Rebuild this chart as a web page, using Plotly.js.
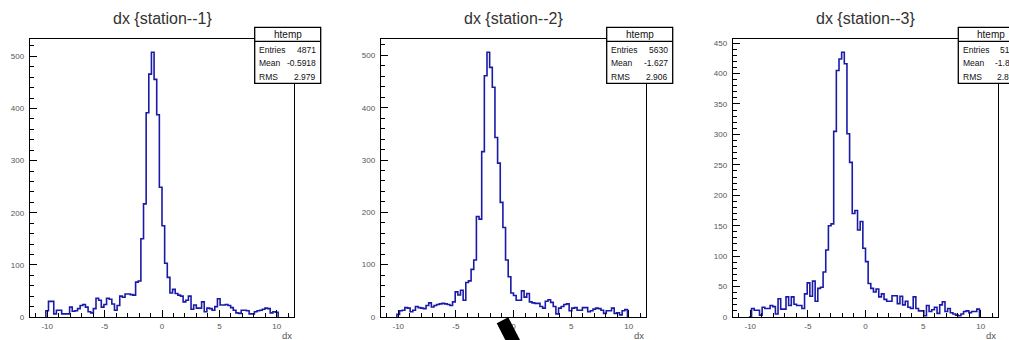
<!DOCTYPE html>
<html><head><meta charset="utf-8">
<script src="https://cdn.plot.ly/plotly-3.0.1.min.js"></script>
<style>html,body{margin:0;padding:0;background:#fff;overflow:hidden}#chart{width:1009px;height:340px}</style>
</head><body><div id="chart"></div>
<script>
// ---------------- data ----------------
const panelTitles = ["dx {station--1}", "dx {station--2}", "dx {station--3}"];
const xAxisLabel = "dx";
const boxName = "htemp";
const xMin = -11.5, xMax = 11.5, nBins = 100;
const firstBin = 6;            // index of first listed bin in the 100-bin histogram
const xTickVals = [-10, -5, 0, 5, 10];
const xTickText = ["-10", "-5", "0", "5", "10"];

const counts1 = [12,30,30,6,13,13,6,6,6,19, 11,12,16,22,24,19,10,8,16,36,
  32,19,24,36,34,25,13,22,40,38, 44,44,43,42,67,69,150,217,392,466,
  508,456,388,249,175,103,76,46,53,45, 42,40,29,32,40,15,23,17,17,29,
  10,17,16,13,20,35,23,23,24,22, 18,13,8,7,13,13,12,6,6,10, 12,13,15,17,16,8,10,9];
const counts2 = [5,12,13,18,17,10,13,20,18,17, 16,22,27,19,22,24,25,26,25,24, 22,29,48,42,51,32,
  66,69,91,109,192,187,316,461,506,477,439,343,294,219,171,109,77,46,41,
  32,32,50,38,45,29,27,26,26,20, 17,30,33,28,20,6,17,20,24,25, 12,17,18,13,13,18,18,10,12,15,
  17,16,13,7,12,12,17,7,8,4, 12,14];
const counts3 = [0, 14,11,11,3,16,14,14,19,17,5, 30,13,13,33,19,33,21,19,19,14, 38,56,34,59,26,47,49,74,
  110,150,153,305,405,424,435,416,301,254,170,175,143,157,113,91,
  55,47,41,46,33,38,29,26,26,35, 35,22,34,20,26,16,14,33,14,10, 10,2,19,9,12,16,6,20,25,9,
  14,7,5,3,2,5,9,10,7,9, 9,13];

const statNames = ["Entries", "Mean", "RMS"];
const stat1 = ["4871", "-0.5918", "2.979"];
const stat2 = ["5630", "-1.627", "2.906"];
const stat3 = ["5157", "-1.886", "2.853"];

const yMajor = [100, 100, 50];
const yMinor = [20, 20, 10];

// ---------------- layout geometry (pixels) ----------------
const W = 1009, H = 340;
const frames = [{l: 30, r: 294}, {l: 381, r: 646}, {l: 733, r: 998}];
const frameTop = 39, frameBottom = 317;
const boxLefts = [254.7, 606.7, 958.3];
const boxW = 66, boxTop = 27.3, boxHeadBottom = 41.3, boxBottom = 83.3;
const barPoly = [[496.7, 323.3], [508.3, 317.3], [527.2, 354], [512.5, 354]];

const px = x => x / W;
const py = y => 1 - y / H;

const allCounts = [counts1, counts2, counts3];
const allStats = [stat1, stat2, stat3];
const binW = (xMax - xMin) / nBins;

const traces = [];
const layout = {
  width: W, height: H, autosize: false,
  margin: {l: 0, r: 0, t: 0, b: 0},
  paper_bgcolor: "#fff", plot_bgcolor: "#fff",
  showlegend: false,
  shapes: [], annotations: []
};
const tickFont = {family: "Liberation Sans, Arial, sans-serif", size: 8, color: "#555"};
const statFont = {family: "Liberation Sans, Arial, sans-serif", size: 8.5, color: "#111"};

allCounts.forEach((c, i) => {
  const s = i === 0 ? "" : String(i + 1);
  const xs = [], ys = [];
  const e0 = xMin + firstBin * binW;
  xs.push(e0); ys.push(0);
  c.forEach((v, j) => { xs.push(e0 + j * binW); ys.push(v); });
  xs.push(e0 + c.length * binW); ys.push(0);
  traces.push({
    type: "scatter", mode: "lines", x: xs, y: ys,
    xaxis: "x" + s, yaxis: "y" + s,
    line: {shape: "hv", color: "#1a1aa8", width: 1.6},
    hoverinfo: "skip"
  });
  const fr = frames[i];
  const ymax = Math.max(...c) * 1.05;
  layout["xaxis" + s] = {
    domain: [px(fr.l), px(fr.r)], range: [xMin, xMax], anchor: "y" + s,
    showline: true, mirror: true, linecolor: "#000", linewidth: 1.2,
    ticks: "inside", ticklen: 7, tickwidth: 1, tickcolor: "#000",
    tickmode: "array", tickvals: xTickVals, ticktext: xTickText,
    minor: {dtick: 1, tick0: 0, ticks: "inside", ticklen: 4, tickwidth: 1, tickcolor: "#000", showgrid: false},
    showgrid: false, zeroline: false, tickfont: tickFont, ticklabelstandoff: 1
  };
  layout["yaxis" + s] = {
    domain: [py(frameBottom), py(frameTop)], range: [0, ymax], anchor: "x" + s,
    showline: true, mirror: true, linecolor: "#000", linewidth: 1.2,
    ticks: "inside", ticklen: 7, tickwidth: 1, tickcolor: "#000",
    dtick: yMajor[i], tick0: 0,
    minor: {dtick: yMinor[i], tick0: 0, ticks: "inside", ticklen: 4, tickwidth: 1, tickcolor: "#000", showgrid: false},
    showgrid: false, zeroline: false, tickfont: tickFont, ticklabelstandoff: 3
  };
  // title
  layout.annotations.push({
    xref: "paper", yref: "paper", x: px((fr.l + fr.r) / 2), y: py(18),
    xanchor: "center", yanchor: "middle", showarrow: false,
    text: panelTitles[i], font: {family: "Liberation Sans, Arial, sans-serif", size: 16, color: "#333"}
  });
  // x axis label
  layout.annotations.push({
    xref: "paper", yref: "paper", x: px(fr.r), y: py(335.5),
    xanchor: "right", yanchor: "middle", showarrow: false,
    text: xAxisLabel, font: {family: "Liberation Sans, Arial, sans-serif", size: 9.5, color: "#555"}
  });
  // stat box
  const bl = boxLefts[i];
  layout.shapes.push({type: "rect", xref: "paper", yref: "paper", layer: "above",
    x0: px(bl), x1: px(bl + boxW), y0: py(boxBottom), y1: py(boxTop),
    fillcolor: "#fff", line: {color: "#000", width: 1.3}});
  layout.shapes.push({type: "line", xref: "paper", yref: "paper", layer: "above",
    x0: px(bl), x1: px(bl + boxW), y0: py(boxHeadBottom), y1: py(boxHeadBottom),
    line: {color: "#000", width: 1.3}});
  layout.annotations.push({
    xref: "paper", yref: "paper", x: px(bl + boxW / 2), y: py(34.5),
    xanchor: "center", yanchor: "middle", showarrow: false,
    text: boxName, font: {family: "Liberation Sans, Arial, sans-serif", size: 10, color: "#111"}
  });
  const rowY = [50, 63.3, 77.5];
  statNames.forEach((nm, r) => {
    layout.annotations.push({
      xref: "paper", yref: "paper", x: px(bl + 2.5), y: py(rowY[r]),
      xanchor: "left", yanchor: "middle", showarrow: false,
      text: nm, font: statFont
    });
    layout.annotations.push({
      xref: "paper", yref: "paper", x: px(bl + boxW - 3), y: py(rowY[r]),
      xanchor: "right", yanchor: "middle", showarrow: false,
      text: allStats[i][r], font: statFont
    });
  });
});

// black bar overlay
layout.shapes.push({
  type: "path", xref: "paper", yref: "paper", layer: "above",
  path: "M" + barPoly.map(p => px(p[0]) + "," + py(p[1])).join(" L") + " Z",
  fillcolor: "#000", line: {color: "#000", width: 0}
});

Plotly.newPlot("chart", traces, layout, {staticPlot: true, displayModeBar: false});
</script></body></html>
